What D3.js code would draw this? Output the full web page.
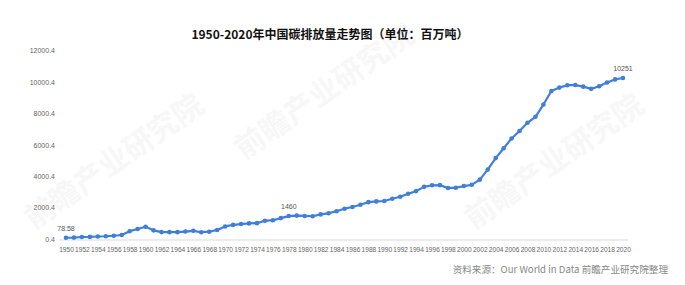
<!DOCTYPE html>
<html>
<head>
<meta charset="utf-8">
<script src="https://cdn.jsdelivr.net/npm/d3@7"></script>
<style>
  body { margin: 0; background: #fff; }
  svg { display: block; font-family: "Noto Sans CJK SC", "Noto Sans", sans-serif; }
</style>
</head>
<body>
<div class="chart"></div>
<script>
// 中国碳排放量 1950-2020 (百万吨)
var years = d3.range(1950, 2021);
var emissions = [
  78.58, 91, 127, 135, 160, 174, 209, 255, 498, 634,
  780, 552, 440, 436, 436, 475, 522, 432, 465, 578,
  800, 898, 952, 995, 1010, 1160, 1196, 1330, 1460, 1490,
  1467, 1450, 1566, 1636, 1771, 1930, 2040, 2180, 2345, 2395,
  2420, 2560, 2690, 2880, 3050, 3320, 3420, 3430, 3250, 3260,
  3370, 3450, 3780, 4420, 5150, 5780, 6400, 6880, 7400, 7780,
  8560, 9420, 9640, 9790, 9800, 9700, 9560, 9720, 9960, 10160,
  10251
];
var yTicks = [0.4, 2000.4, 4000.4, 6000.4, 8000.4, 10000.4, 12000.4];
var labelled = [1950, 1978, 2020];
var labelText = { 1950: "78.58", 1978: "1460", 2020: "10251" };

var width = 685, height = 285;

var svg = d3.select(".chart")
    .append("svg")
    .attr("width", width)
    .attr("height", height);

var x = d3.scaleLinear()
    .domain([1950, 2020])
    .range([66, 623]);

var y = d3.scaleLinear()
    .domain([0.4, 12000.4])
    .range([239, 50.5]);

// watermarks
var marks = [[120, 170], [330, 100], [560, 170]];
marks.forEach(function(m) {
    svg.append("text")
        .attr("transform", "translate(" + m[0] + "," + m[1] + ") rotate(-35)")
        .attr("text-anchor", "middle")
        .style("font-size", "30px")
        .style("font-weight", "bold")
        .style("fill", "#f7f7f7")
        .text("前瞻产业研究院");
});

// title
svg.append("text")
    .attr("x", 330)
    .attr("y", 39)
    .attr("text-anchor", "middle")
    .style("font-size", "12px")
    .style("font-weight", "bold")
    .style("fill", "#111")
    .text("1950-2020年中国碳排放量走势图（单位：百万吨）");

// y axis labels only
var yAxis = d3.axisLeft(y)
    .tickValues(yTicks)
    .tickFormat(function(d) { return d3.format(".1f")(d); })
    .tickSize(0)
    .tickPadding(0);

var gy = svg.append("g")
    .attr("transform", "translate(55,0)")
    .call(yAxis);
gy.select(".domain").remove();
gy.selectAll("text")
    .style("font-family", "'Liberation Sans', sans-serif")
    .style("font-size", "7px")
    .style("fill", "#666");

// x axis
var xAxis = d3.axisBottom(x)
    .tickValues(years.filter(function(d) { return d % 2 === 0; }))
    .tickFormat(d3.format("d"))
    .tickSize(0)
    .tickPadding(7);

var gx = svg.append("g")
    .attr("transform", "translate(0,240)")
    .call(xAxis);
gx.select(".domain")
    .attr("d", "M60,0H628")
    .attr("stroke", "#d9d9d9");
gx.selectAll("text")
    .style("font-family", "'Liberation Sans', sans-serif")
    .style("font-size", "6.6px")
    .style("fill", "#666");

var data = years.map(function(yr, i) { return { year: yr, value: emissions[i] }; });

var line = d3.line()
    .x(function(d) { return x(d.year); })
    .y(function(d) { return y(d.value); });

svg.append("path")
    .datum(data)
    .attr("fill", "none")
    .attr("stroke", "#3f7fd8")
    .attr("stroke-width", 2.2)
    .attr("stroke-linejoin", "round")
    .attr("d", line);

svg.selectAll("circle.pt")
    .data(data)
    .enter().append("circle")
    .attr("class", "pt")
    .attr("cx", function(d) { return x(d.year); })
    .attr("cy", function(d) { return y(d.value); })
    .attr("r", 2.3)
    .attr("fill", "#3f7fd8");

// data labels
svg.selectAll("text.lbl")
    .data(data.filter(function(d) { return labelled.indexOf(d.year) >= 0; }))
    .enter().append("text")
    .attr("class", "lbl")
    .attr("x", function(d) { return x(d.year); })
    .attr("y", function(d) { return y(d.value) - 7; })
    .attr("text-anchor", "middle")
    .style("font-family", "'Liberation Sans', sans-serif")
    .style("font-size", "7px")
    .style("fill", "#555")
    .text(function(d) { return labelText[d.year]; });

// source
svg.append("text")
    .attr("x", 668)
    .attr("y", 273)
    .attr("text-anchor", "end")
    .style("font-size", "9.6px")
    .style("fill", "#888")
    .text("资料来源：Our World in Data 前瞻产业研究院整理");
</script>
</body>
</html>
